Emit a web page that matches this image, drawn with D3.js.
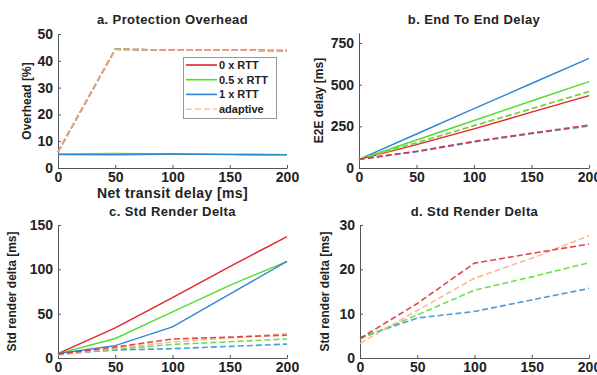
<!DOCTYPE html>
<html>
<head>
<meta charset="utf-8">
<script src="https://cdn.jsdelivr.net/npm/d3@7"></script>
<style>
  html, body { margin: 0; padding: 0; background: #fff; }
  svg { display: block; font-family: "Liberation Sans", Arial, sans-serif; font-weight: bold; }
</style>
</head>
<body>
<div id="chart"></div>
<script>
// Net transit delay [ms]
const netDelay = [0, 50, 100, 150, 200];

// a. Protection overhead [%]
const overheadRtt0 = [5.1, 5.0, 5.1, 5.1, 5.0];
const overheadRtt05 = [5.2, 5.4, 5.2, 5.1, 5.0];
const overheadRtt1 = [5.0, 5.0, 5.2, 5.0, 4.9];
const overheadRtt0Dash = [6.0, 44.3, 44.0, 44.0, 43.8];
const overheadRtt05Dash = [6.0, 44.3, 44.0, 44.0, 43.8];
const overheadRtt1Dash = [6.0, 44.3, 44.0, 44.0, 43.8];
const overheadAdaptive = [6.0, 44.3, 44.0, 44.0, 43.8];

// b. End to end delay [ms]
const e2eRtt0 = [52, 140, 235, 335, 434];
const e2eRtt05 = [52, 168, 285, 402, 518];
const e2eRtt1 = [52, 204, 356, 507, 658];
const e2eRtt0Dash = [52, 100, 160, 210, 258];
const e2eRtt05Dash = [52, 152, 255, 356, 458];
const e2eRtt1Dash = [52, 98, 156, 206, 252];
const e2eAdaptive = [52, 150, 252, 355, 460];

// c./d. Std render delta [ms]
const renderRtt0 = [5, 34, 68, 103, 137];
const renderRtt05 = [5, 22, 52, 82, 109];
const renderRtt1 = [5, 14, 35, 72, 109];
const renderRtt0Dash = [4.4, 12.3, 21.4, 23.6, 25.7];
const renderRtt05Dash = [4.3, 9.7, 15.3, 18.3, 21.5];
const renderRtt1Dash = [4.6, 9.0, 10.5, 13.1, 15.7];
const renderAdaptive = [3.3, 10.7, 18.0, 22.5, 27.6];

const legendLabels = ['0 x RTT', '0.5 x RTT', '1 x RTT', 'adaptive'];

const RED = '#e0262a', GREEN = '#52dc2e', BLUE = '#2f86d6', PEACH = '#f7b48c';

const W = 597, H = 375;
const svg = d3.select('#chart').append('svg')
    .attr('width', W).attr('height', H)
    .attr('viewBox', `0 0 ${W} ${H}`);

const panels = [
    {
        title: 'a. Protection Overhead', ylabel: 'Overhead [%]', xlabel: 'Net transit delay [ms]',
        xr: [58, 287], yr: [168, 34], yd: [0, 50], yticks: [0, 10, 20, 30, 40, 50],
        titleY: 24, ylabelX: 27, legend: true,
        solid: [[overheadRtt0, RED], [overheadRtt05, GREEN], [overheadRtt1, BLUE]],
        dashed: [[overheadRtt1Dash, BLUE], [overheadRtt05Dash, GREEN], [overheadRtt0Dash, RED], [overheadAdaptive, PEACH]]
    },
    {
        title: 'b. End To End Delay', ylabel: 'E2E delay [ms]',
        xr: [359, 589], yr: [168, 33], yd: [0, 810], yticks: [0, 250, 500, 750],
        titleY: 24, ylabelX: 319,
        solid: [[e2eRtt1, BLUE], [e2eRtt05, GREEN], [e2eRtt0, RED]],
        dashed: [[e2eRtt1Dash, BLUE], [e2eAdaptive, PEACH], [e2eRtt05Dash, GREEN], [e2eRtt0Dash, RED]]
    },
    {
        title: 'c. Std Render Delta', ylabel: 'Std render delta [ms]',
        xr: [58, 287], yr: [358, 225], yd: [0, 150], yticks: [0, 50, 100, 150],
        titleY: 216, ylabelX: 12,
        solid: [[renderRtt0, RED], [renderRtt05, GREEN], [renderRtt1, BLUE]],
        dashed: [[renderRtt1Dash, BLUE], [renderRtt05Dash, GREEN], [renderAdaptive, PEACH], [renderRtt0Dash, RED]]
    },
    {
        title: 'd. Std Render Delta', ylabel: 'Std render delta [ms]',
        xr: [360, 589], yr: [358, 225], yd: [0, 30], yticks: [0, 10, 20, 30],
        titleY: 216, ylabelX: 325,
        solid: [],
        dashed: [[renderRtt1Dash, BLUE], [renderRtt05Dash, GREEN], [renderAdaptive, PEACH], [renderRtt0Dash, RED]]
    }
];

panels.forEach(p => {
    const x = d3.scaleLinear().domain([0, 200]).range(p.xr);
    const y = d3.scaleLinear().domain(p.yd).range(p.yr);
    const g = svg.append('g');

    // Axes (left + bottom only, inward ticks)
    const xAxis = g.append('g')
        .attr('transform', `translate(0,${p.yr[0]})`)
        .call(d3.axisBottom(x).tickValues([0, 50, 100, 150, 200]).tickSizeInner(-3).tickSizeOuter(0).tickPadding(4));
    const yAxis = g.append('g')
        .attr('transform', `translate(${p.xr[0]},0)`)
        .call(d3.axisLeft(y).tickValues(p.yticks).tickSizeInner(-3).tickSizeOuter(0).tickPadding(5));
    [xAxis, yAxis].forEach(a => {
        a.select('.domain').attr('stroke', '#555').attr('stroke-width', 1);
        a.selectAll('.tick line').attr('stroke', '#555');
        a.selectAll('.tick text').attr('fill', '#222').style('font-size', '14px').style('font-weight', 'bold');
    });

    const line = d3.line().x((d, i) => x(netDelay[i])).y(d => y(d));

    p.solid.forEach(([vals, col]) => {
        g.append('path').datum(vals).attr('d', line)
            .attr('fill', 'none').attr('stroke', col).attr('stroke-width', 1.4);
    });
    p.dashed.forEach(([vals, col]) => {
        g.append('path').datum(vals).attr('d', line)
            .attr('fill', 'none').attr('stroke', col).attr('stroke-width', 1.6)
            .attr('stroke-dasharray', '6,3').attr('opacity', col === PEACH ? 0.9 : 0.85);
    });

    // Title
    g.append('text')
        .attr('x', (p.xr[0] + p.xr[1]) / 2).attr('y', p.titleY)
        .attr('text-anchor', 'middle').attr('fill', '#222')
        .style('font-size', '13px').style('letter-spacing', '0.4px').text(p.title);

    // Y label
    const cy = (p.yr[0] + p.yr[1]) / 2;
    g.append('text')
        .attr('transform', `translate(${p.ylabelX},${cy}) rotate(-90)`)
        .attr('text-anchor', 'middle').attr('dy', '0.35em').attr('fill', '#222')
        .style('font-size', '12px').text(p.ylabel);

    if (p.xlabel) {
        g.append('text')
            .attr('x', (p.xr[0] + p.xr[1]) / 2).attr('y', 198)
            .attr('text-anchor', 'middle').attr('fill', '#222')
            .style('font-size', '14px').style('letter-spacing', '0.4px').text(p.xlabel);
    }

    if (p.legend) {
        const lg = g.append('g');
        lg.append('rect').attr('x', 183.5).attr('y', 57.5).attr('width', 93).attr('height', 61)
            .attr('fill', '#fff').attr('stroke', '#999');
        const entries = [[RED, false], [GREEN, false], [BLUE, false], [PEACH, true]];
        entries.forEach(([col, dash], i) => {
            const ey = 65 + i * 14.7;
            lg.append('line').attr('x1', 186).attr('x2', 217).attr('y1', ey).attr('y2', ey)
                .attr('stroke', col).attr('stroke-width', dash ? 1.3 : 1.6)
                .attr('stroke-dasharray', dash ? '6,3' : null);
            lg.append('text').attr('x', 219).attr('y', ey).attr('dy', '0.35em')
                .attr('fill', '#222').style('font-size', '11px').text(legendLabels[i]);
        });
    }
});
</script>
</body>
</html>
